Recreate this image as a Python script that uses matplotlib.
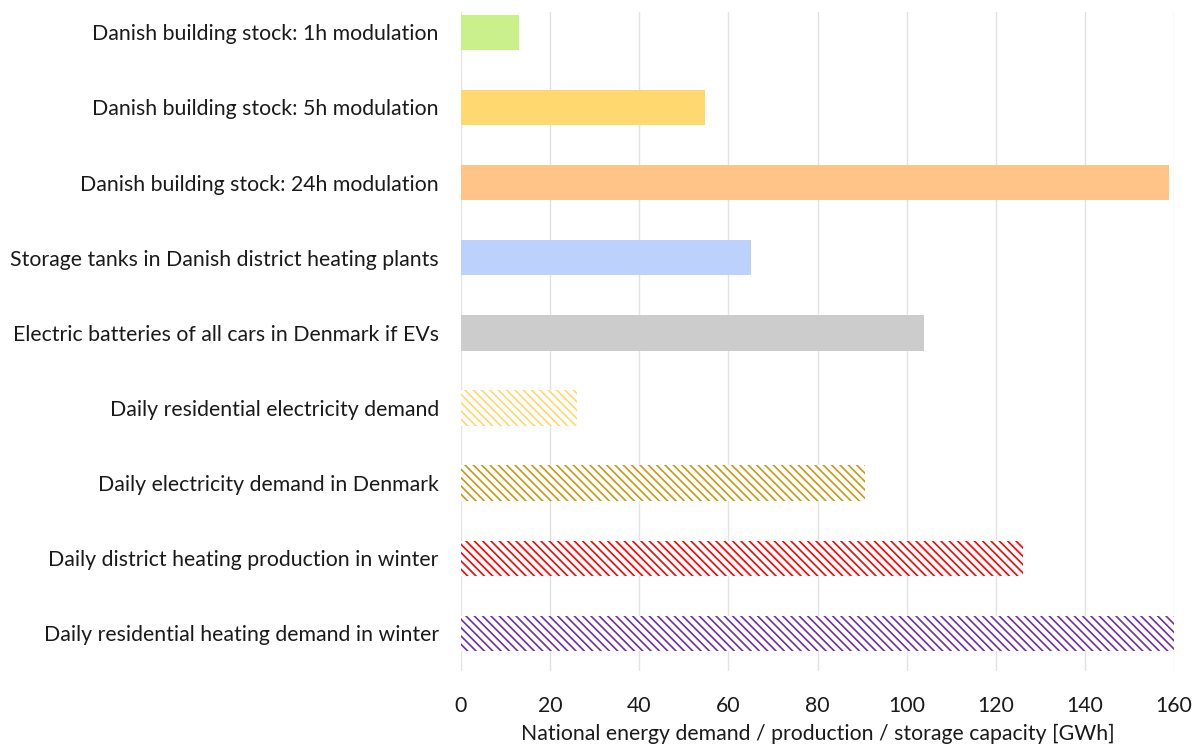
import numpy as np
import matplotlib.pyplot as plt

plt.rcParams['font.family'] = ['Lato', 'DejaVu Sans']
plt.rcParams['hatch.linewidth'] = 1.2

# categories from top to bottom
labels = [
    "Danish building stock: 1h modulation",
    "Danish building stock: 5h modulation",
    "Danish building stock: 24h modulation",
    "Storage tanks in Danish district heating plants",
    "Electric batteries of all cars in Denmark if EVs",
    "Daily residential electricity demand",
    "Daily electricity demand in Denmark",
    "Daily district heating production in winter",
    "Daily residential heating demand in winter",
]
values = [13.0, 54.8, 158.9, 65.0, 104.0, 26.0, 90.6, 126.1, 160.0]
colors = ["#C9F08A", "#FFD96F", "#FFC488", "#BCD2FC", "#CCCCCC",
          "#FFD96F", "#C59A15", "#FF0000", "#7030A0"]
hatched = [False, False, False, False, False, True, True, True, True]

fig = plt.figure(figsize=(11.96, 7.45), dpi=100)
ax = fig.add_axes([461 / 1196, 1 - 671 / 745, (1174 - 461) / 1196, (671 - 12) / 745])

y = np.arange(len(labels))[::-1]
for yi, v, c, h in zip(y, values, colors, hatched):
    if h:
        ax.barh(yi, v, height=0.47, color="white", edgecolor=c,
                hatch="\\" * 4, linewidth=0, zorder=2)
    else:
        ax.barh(yi, v, height=0.47, color=c, zorder=2)

ax.set_yticks(y)
ax.set_yticklabels(labels, fontsize=15.3, color="#1a1a1a")
ax.set_xlim(0, 160)
ax.set_xticks(np.arange(0, 161, 20))
ax.tick_params(axis="x", labelsize=15.3, labelcolor="#1a1a1a", length=0, pad=18)
ax.tick_params(axis="y", length=0, pad=16)
ax.set_ylim(-0.5, 8.27)
ax.grid(axis="x", color="#E3E3E3", linewidth=1.0, zorder=0)
for s in ax.spines.values():
    s.set_visible(False)
ax.set_xlabel("National energy demand / production / storage capacity [GWh]",
              fontsize=15.3, color="#1a1a1a", labelpad=6)

fig.savefig("out.png", dpi=100)
